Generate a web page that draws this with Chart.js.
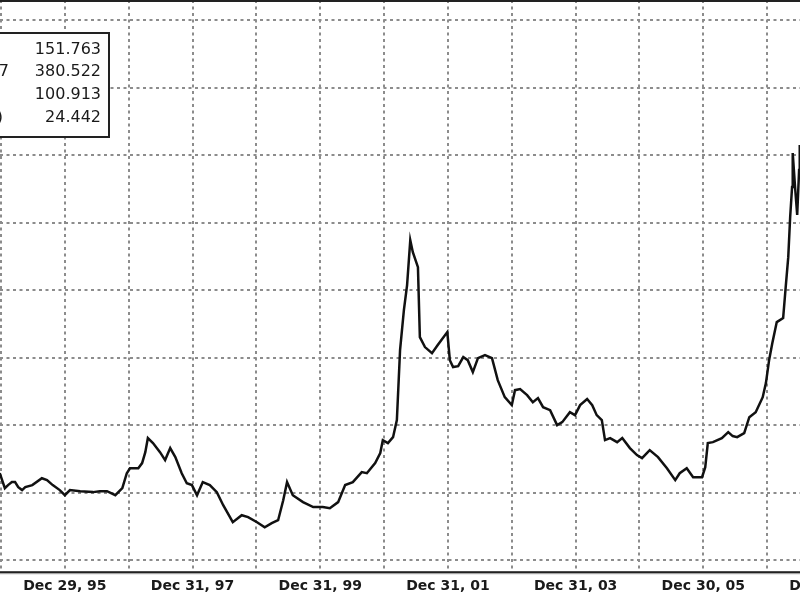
<!DOCTYPE html>
<html><head><meta charset="utf-8">
<script src="https://cdn.jsdelivr.net/npm/chart.js@4.4.1/dist/chart.umd.min.js"></script>
<style>html,body{margin:0;padding:0;background:#fff}</style>
</head><body>
<canvas id="c" width="800" height="600"></canvas>
<script>
// Decimal-year dates and values
const dates = [1994.98,1995.06,1995.11,1995.17,1995.22,1995.27,1995.33,1995.38,1995.49,1995.64,1995.72,1995.81,1995.92,1996.00,1996.08,1996.24,1996.44,1996.55,1996.66,1996.79,1996.90,1996.97,1997.02,1997.15,1997.21,1997.26,1997.30,1997.38,1997.49,1997.57,1997.65,1997.73,1997.83,1997.91,1997.99,1998.07,1998.16,1998.27,1998.38,1998.48,1998.63,1998.77,1998.87,1999.01,1999.13,1999.24,1999.34,1999.42,1999.48,1999.57,1999.73,1999.89,2000.04,2000.15,2000.28,2000.39,2000.51,2000.65,2000.73,2000.86,2000.94,2000.98,2001.06,2001.14,2001.20,2001.25,2001.31,2001.36,2001.41,2001.45,2001.53,2001.56,2001.64,2001.75,2001.84,2001.99,2002.03,2002.08,2002.16,2002.24,2002.31,2002.39,2002.47,2002.58,2002.69,2002.78,2002.89,2003.00,2003.05,2003.13,2003.24,2003.33,2003.41,2003.49,2003.60,2003.71,2003.79,2003.91,2003.99,2004.07,2004.18,2004.26,2004.33,2004.41,2004.46,2004.54,2004.65,2004.73,2004.85,2004.96,2005.04,2005.16,2005.29,2005.43,2005.56,2005.63,2005.74,2005.84,2005.98,2006.03,2006.07,2006.15,2006.29,2006.39,2006.46,2006.53,2006.64,2006.72,2006.82,2006.93,2006.98,2007.03,2007.08,2007.15,2007.25,2007.29,2007.33,2007.36,2007.39,2007.40,2007.44,2007.47,2007.50,2007.51];
const values = [144.4,133.3,135.6,137.8,137.8,134.1,131.9,134.1,135.6,140.7,139.3,135.6,131.9,128.1,131.9,131.1,130.4,131.1,131.1,128.1,133.3,144.4,148.1,148.1,151.9,160.0,170.4,166.7,160.0,154.1,163.0,156.3,144.4,137.0,135.6,128.1,137.8,135.6,130.4,120.7,108.1,113.3,111.9,108.1,104.4,107.4,109.6,124.4,137.8,128.1,123.0,119.3,119.3,118.5,123.0,135.6,137.8,145.2,144.4,151.9,159.3,168.9,166.7,171.1,183.7,235.6,265.2,283.7,317.0,308.1,297.0,245.2,237.8,233.3,239.3,248.9,228.1,223.0,223.7,230.4,228.1,219.3,229.6,231.9,229.6,213.3,200.7,194.8,205.9,206.7,202.2,197.0,200.0,193.3,191.1,180.0,182.2,189.6,187.4,194.8,199.3,194.8,187.4,183.7,168.9,170.4,167.4,170.4,163.0,157.8,155.6,161.5,156.3,148.1,139.3,144.4,148.1,141.5,141.5,148.9,166.7,167.4,170.4,174.8,171.9,171.1,174.1,185.9,189.6,200.7,211.1,228.1,240.7,256.3,259.3,282.2,304.4,334.1,356.3,381.5,354.1,335.6,368.9,387.4];

// Axis ticks / labels
const gridYears = [1995,1996,1997,1998,1999,2000,2001,2002,2003,2004,2005,2006,2007];
const labelYears = [1996,1998,2000,2002,2004,2006,2008];
const labelTexts = ['Dec 29, 95','Dec 31, 97','Dec 31, 99','Dec 31, 01','Dec 31, 03','Dec 30, 05','Dec 31, 07'];
const yGrid = [80,130,180,230,280,330,380,430,480];
const xMin = 1994.984, xMax = 2007.514;
const yMin = 71.1, yMax = 494.8;

// Info box (partially cropped in reference)
const boxValues = ['151.763','380.522','100.913','24.442'];
const boxLabels = ['', '2007', '', '(M)'];

const FONT = 'DejaVu Sans';

const framePlugin = {
  id: 'frame',
  afterDraw(chart) {
    const ctx = chart.ctx, a = chart.chartArea, xs = chart.scales.x;
    ctx.save();
    ctx.fillStyle = '#222';
    ctx.fillRect(a.left, a.top, a.right - a.left, 2);
    ctx.fillRect(a.left, a.bottom - 1, a.right - a.left, 2);
    ctx.fillStyle = '#9a9a9a';
    ctx.fillRect(a.left, a.bottom + 1, a.right - a.left, 1);
    // cropped last label
    const items = xs.getLabelItems(a);
    const ref = items.find(it => it.label);
    if (ref) {
      const last = labelYears[labelYears.length - 1];
      ctx.font = ref.font.string;
      ctx.fillStyle = ref.options.color || '#222';
      ctx.textAlign = 'center';
      ctx.textBaseline = ref.options.textBaseline;
      ctx.fillText(labelTexts[labelTexts.length - 1], xs.getPixelForValue(last), ref.options.translation[1] + ref.textOffset);
    }
    // info box
    ctx.fillStyle = '#fff';
    ctx.fillRect(-4, 33, 113, 104);
    ctx.strokeStyle = '#222';
    ctx.lineWidth = 2;
    ctx.strokeRect(-4, 33, 113, 104);
    ctx.fillStyle = '#1a1a1a';
    ctx.font = '16px "' + FONT + '"';
    ctx.textBaseline = 'middle';
    const rows = [50, 72, 95, 118];
    boxValues.forEach((v, i) => {
      ctx.textAlign = 'right';
      ctx.fillText(v, 101, rows[i]);
      if (boxLabels[i]) ctx.fillText(boxLabels[i], i === 3 ? 3 : 9, rows[i]);
    });
    ctx.restore();
  }
};

new Chart(document.getElementById('c'), {
  type: 'line',
  data: { datasets: [{
    data: dates.map((d, i) => ({ x: d, y: values[i] })),
    borderColor: '#111', borderWidth: 2.5, pointRadius: 0, fill: false, tension: 0
  }]},
  options: {
    responsive: false, animation: false,
    layout: { padding: { left: 0, right: 0, top: 0, bottom: 5 } },
    plugins: { legend: { display: false }, tooltip: { enabled: false } },
    scales: {
      x: {
        type: 'linear', min: xMin, max: xMax,
        afterBuildTicks: s => { s.ticks = gridYears.map(v => ({ value: v })); },
        grid: { color: '#8c8c8c', lineWidth: 2, drawTicks: true, tickLength: 6, tickColor: 'rgba(0,0,0,0)' },
        border: { display: false, dash: [3, 3.5] },
        ticks: {
          autoSkip: false, maxRotation: 0, minRotation: 0, padding: 0, color: '#1a1a1a',
          font: { family: FONT, size: 14, weight: 'bold' },
          callback: v => { const i = labelYears.indexOf(v); return i >= 0 ? labelTexts[i] : ''; }
        }
      },
      y: {
        type: 'linear', min: yMin, max: yMax,
        afterBuildTicks: s => { s.ticks = yGrid.map(v => ({ value: v })); },
        grid: { color: '#8c8c8c', lineWidth: 2, drawTicks: false },
        border: { display: false, dash: [3, 3.5] },
        ticks: { display: false }
      }
    }
  },
  plugins: [framePlugin]
});
</script>
</body></html>
